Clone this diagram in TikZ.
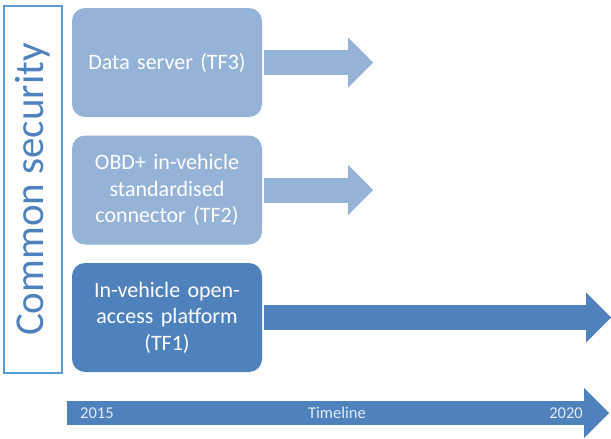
\documentclass[tikz,border=0pt]{standalone}
\usepackage{fontspec}
\setmainfont{Carlito}
\usetikzlibrary{arrows.meta}
\definecolor{lightblue}{HTML}{95B3D7}
\definecolor{darkblue}{HTML}{4F81BD}
\definecolor{edgeblue}{HTML}{5B9BD5}
\definecolor{paleblue}{HTML}{E4ECF6}
\begin{document}
\begin{tikzpicture}[x=1pt,y=-1pt,
  tfbox/.style={rounded corners=13pt, minimum width=190pt, minimum height=109pt, text width=180pt, align=center, text=white, font=\fontsize{22}{26.5}\selectfont, inner sep=0pt},
  bigarrow/.style={line width=25pt, draw=#1, shorten <=2pt, -{Triangle[length=25pt,width=50pt,line width=0pt]}},
  tlabel/.style={text=paleblue, font=\fontsize{16.5}{19}\selectfont, inner sep=0pt}]
\useasboundingbox (0,0) rectangle (611,439);
\node[draw=edgeblue, line width=1.5pt, rotate=90, minimum width=367pt, minimum height=58pt, inner sep=0pt, text=darkblue, font=\fontsize{41}{48}\selectfont] (common) at (33,189.5){Common security};
\node[tfbox, fill=lightblue] (tf3) at (167,62.5){Data server (TF3)};
\node[tfbox, fill=lightblue] (tf2) at (167,190){OBD+ in-vehicle\\standardised\\connector (TF2)};
\node[tfbox, fill=darkblue] (tf1) at (167,317.5){In-vehicle open-\\access platform\\(TF1)};
\coordinate (tf3end) at (373,62.5);
\coordinate (tf2end) at (373,190);
\coordinate (tf1end) at (611,317.5);
\draw[bigarrow=lightblue](tf3.east) -- (tf3end);
\draw[bigarrow=lightblue](tf2.east) -- (tf2end);
\draw[bigarrow=darkblue](tf1.east) -- (tf1end);
\coordinate (tlstart) at (67,413);
\coordinate (tlend) at (609,413);
\draw[bigarrow=darkblue, line width=24pt, shorten <=0pt](tlstart) -- (tlend);
\node[tlabel, anchor=west] (y2015) at (80,413){2015};
\node[tlabel] (timeline) at (337,413){Timeline};
\node[tlabel, anchor=east] (y2020) at (583,413){2020};
\end{tikzpicture}
\end{document}
